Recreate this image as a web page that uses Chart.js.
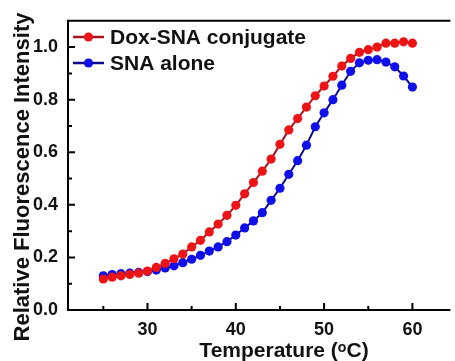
<!DOCTYPE html>
<html>
<head>
<meta charset="utf-8">
<script src="https://cdn.jsdelivr.net/npm/chart.js@4.4.0/dist/chart.umd.min.js"></script>
<style>
  html, body { margin: 0; padding: 0; background: #fff; }
  #wrap { width: 455px; height: 361px; }
</style>
</head>
<body>
<div id="wrap"><canvas id="myChart"></canvas></div>
<script>
// temperature points (°C)
const temps = [25,26,27,28,29,30,31,32,33,34,35,36,37,38,39,40,41,42,
               43,44,45,46,47,48,49,50,51,52,53,54,55,56,57,58,59,60];

const doxSna = [0.118,0.125,0.130,0.135,0.140,0.148,0.162,0.177,0.195,0.213,
                0.240,0.265,0.297,0.327,0.360,0.398,0.442,0.485,0.528,0.574,
                0.630,0.685,0.728,0.772,0.815,0.852,0.889,0.928,0.957,0.980,
                0.990,1.000,1.015,1.015,1.020,1.015];

const snaAlone = [0.130,0.135,0.138,0.140,0.143,0.146,0.152,0.160,0.168,0.180,
                  0.193,0.208,0.224,0.240,0.260,0.285,0.312,0.339,0.370,0.417,
                  0.463,0.516,0.568,0.627,0.697,0.750,0.800,0.855,0.908,0.940,
                  0.950,0.952,0.943,0.925,0.890,0.848];

const seriesNames = ['Dox-SNA conjugate', 'SNA alone'];

const xTicks = [30, 40, 50, 60];
const xMinor = [25, 35, 45, 55];
const yTicks = [0, 0.2, 0.4, 0.6, 0.8, 1.0];
const yMinor = [0.1, 0.3, 0.5, 0.7, 0.9];

const xTitle = 'Temperature (ᵒC)';
const yTitle = 'Relative Fluorescence Intensity';

const ctx = document.getElementById('myChart');
const FONT = '"Liberation Sans", Arial, sans-serif';

// frame, inward ticks, legend and axis titles
const framePlugin = {
    id: 'frame',
    afterDatasetsDraw(chart) {
        const c = chart.ctx;
        const a = chart.chartArea;
        const xs = chart.scales.x;
        const ys = chart.scales.y;
        c.save();
        c.strokeStyle = '#000';
        c.lineWidth = 2;
        c.beginPath();
        c.moveTo(a.right, a.top);
        c.lineTo(a.left, a.top);
        c.lineTo(a.left, a.bottom);
        c.lineTo(a.right, a.bottom);
        c.stroke();

        c.beginPath();
        xTicks.forEach(v => { const p = xs.getPixelForValue(v); c.moveTo(p, a.bottom); c.lineTo(p, a.bottom - 7); });
        xMinor.forEach(v => { const p = xs.getPixelForValue(v); c.moveTo(p, a.bottom); c.lineTo(p, a.bottom - 4); });
        yTicks.forEach(v => { const p = ys.getPixelForValue(v); c.moveTo(a.left, p); c.lineTo(a.left + 7, p); });
        yMinor.forEach(v => { const p = ys.getPixelForValue(v); c.moveTo(a.left, p); c.lineTo(a.left + 4, p); });
        c.stroke();
        c.restore();
    },
    afterDraw(chart) {
        const c = chart.ctx;
        c.save();
        // legend inside the plot, top-left
        chart.data.datasets.forEach((ds, i) => {
            const y = 37 + i * 26;
            c.strokeStyle = ds.borderColor;
            c.lineWidth = 2.5;
            c.beginPath();
            c.moveTo(73, y);
            c.lineTo(104, y);
            c.stroke();
            c.fillStyle = ds.pointBackgroundColor;
            c.beginPath();
            c.arc(88.5, y, 4.6, 0, Math.PI * 2);
            c.fill();
            c.fillStyle = '#111';
            c.font = 'bold 21px ' + FONT;
            c.textAlign = 'left';
            c.textBaseline = 'middle';
            c.fillText(ds.label, 110, y + 1);
        });

        // axis titles (the original plot runs past the right edge, so the
        // x title sits right of the visible centre)
        c.fillStyle = '#111';
        c.font = 'bold 21px ' + FONT;
        c.textAlign = 'center';
        c.textBaseline = 'alphabetic';
        c.fillText(xTitle, 284, 357);

        c.translate(29, 177);
        c.rotate(-Math.PI / 2);
        c.font = 'bold 22px ' + FONT;
        c.fillText(yTitle, 0, 0);
        c.restore();
    }
};

new Chart(ctx, {
    type: 'line',
    data: {
        labels: temps,
        datasets: [{
            label: seriesNames[0],
            data: temps.map((t, i) => ({ x: t, y: doxSna[i] })),
            borderColor: 'rgb(170, 20, 30)',
            borderWidth: 2,
            pointBackgroundColor: 'rgb(238, 20, 22)',
            pointBorderWidth: 0,
            pointRadius: 4.6,
            tension: 0
        }, {
            label: seriesNames[1],
            data: temps.map((t, i) => ({ x: t, y: snaAlone[i] })),
            borderColor: 'rgb(10, 10, 140)',
            borderWidth: 2,
            pointBackgroundColor: 'rgb(15, 15, 235)',
            pointBorderWidth: 0,
            pointRadius: 4.6,
            tension: 0
        }]
    },
    options: {
        responsive: true,
        maintainAspectRatio: false,
        animation: false,
        devicePixelRatio: 1,
        layout: { padding: { top: 13, right: 0, left: 0, bottom: 0 } },
        plugins: { legend: { display: false }, tooltip: { enabled: false } },
        scales: {
            x: {
                type: 'linear',
                min: 21,
                max: 64.3,
                afterBuildTicks: s => { s.ticks = xTicks.map(v => ({ value: v })); },
                afterFit: s => { s.height = 51; },
                grid: { display: false, drawTicks: false },
                border: { display: false },
                ticks: {
                    color: '#111',
                    padding: 9,
                    font: { family: 'Liberation Sans', size: 18, weight: 'bold' }
                }
            },
            y: {
                min: 0,
                max: 1.1,
                afterBuildTicks: s => { s.ticks = yTicks.map(v => ({ value: v })); },
                afterFit: s => { s.width = 68; },
                grid: { display: false, drawTicks: false },
                border: { display: false },
                ticks: {
                    color: '#111',
                    padding: 10,
                    callback: v => v.toFixed(1),
                    font: { family: 'Liberation Sans', size: 18, weight: 'bold' }
                }
            }
        }
    },
    plugins: [framePlugin]
});
</script>
</body>
</html>
